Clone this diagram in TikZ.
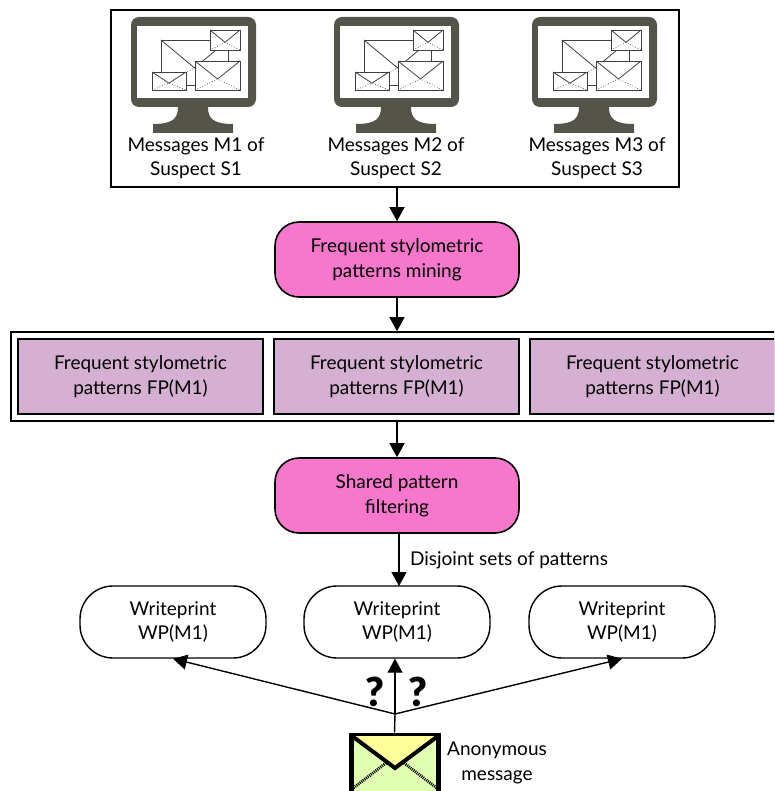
\documentclass[tikz,border=0pt]{standalone}
\usepackage{fontspec}
\setmainfont{Lato}
\newfontfamily\askfont{Lato Black}
\usetikzlibrary{arrows.meta}

\definecolor{screen}{HTML}{54544A}
\definecolor{mine}{HTML}{F777CC}
\definecolor{mauve}{HTML}{D6B0D2}
\definecolor{paper}{HTML}{E0FFB0}
\definecolor{flap}{HTML}{FFFF99}

\tikzset{
  every node/.style={font=\fontsize{19}{24.5}\selectfont,align=center},
  outer/.style={draw,line width=1.6pt},
  mining/.style={draw,line width=1.6pt,fill=mine,rounded corners=24pt,minimum width=244pt,minimum height=75pt},
  fpbox/.style={draw,line width=1.8pt,fill=mauve,minimum width=245pt,minimum height=75pt},
  wpbox/.style={draw,line width=1.4pt,rounded corners=33pt,minimum width=186pt,minimum height=72pt},
  ask/.style={font=\fontsize{40}{40}\askfont}
}

% one small letter: left, top, right, bottom
\newcommand{\mailicon}[4]{
  \pgfmathsetmacro{\mx}{(#1+#3)/2}
  \pgfmathsetmacro{\my}{#2+0.62*(#4-#2)}
  \draw[-,line width=.8pt,draw=black!75,fill=white] (#1,#2) rectangle (#3,#4);
  \draw[-,line width=.7pt,draw=black!75,dotted] (#1,#4) -- (\mx,\my) -- (#3,#4);
  \draw[-,line width=.8pt,draw=black!75] (#1,#2) -- (\mx,\my) -- (#3,#2);
}
% one monitor, x is the middle of the screen
\newcommand{\monitoricon}[1]{
  \begin{scope}[xshift=#1pt,-]
    \fill[screen,rounded corners=8pt] (-62.5,17) rectangle (62.5,107);
    \fill[white] (-56.5,26) rectangle (54.5,98);
    \fill[screen] (-15.5,107) .. controls (-15.5,118) and (-20,124) .. (-40.5,124)
      -- (-40.5,133) -- (39.5,133) -- (39.5,124)
      .. controls (19,124) and (14.5,118) .. (14.5,107) -- cycle;
    \mailicon{-32.5}{40}{34.5}{85}
    \mailicon{16.5}{30}{46.5}{50}
    \mailicon{1.5}{61}{46.5}{90}
    \mailicon{-41.5}{72}{-7.5}{90}
  \end{scope}
}

\begin{document}
\begin{tikzpicture}[->,>={Triangle[length=14pt,width=15pt]},auto,x=1pt,y=-1pt,line width=1.4pt]

  \clip (0,0) rectangle (774,791);
  \useasboundingbox (0,0) rectangle (774,791);

  \node[outer,minimum width=568pt,minimum height=177pt] (S) at (395,98.5) {};
  \monitoricon{193.5}
  \monitoricon{396.5}
  \monitoricon{594.5}
  \node (M1) at (196,158) {Messages M1 of\\Suspect S1};
  \node (M2) at (396,158) {Messages M2 of\\Suspect S2};
  \node (M3) at (597,158) {Messages M3 of\\Suspect S3};

  \node[mining] (mine) at (397,259.5) {Frequent stylometric\\patterns mining};

  \node[outer,minimum width=800pt,minimum height=89pt] (F) at (411,376.5) {};
  \node[fpbox] (F1) at (140.5,376.5) {Frequent stylometric\\patterns FP(M1)};
  \node[fpbox] (F2) at (396.5,376.5) {Frequent stylometric\\patterns FP(M1)};
  \node[fpbox] (F3) at (652.5,376.5) {Frequent stylometric\\patterns FP(M1)};

  \node[mining] (share) at (397,495.5) {Shared pattern\\filtering};

  \node[wpbox] (W1) at (173,622) {Writeprint\\WP(M1)};
  \node[wpbox] (W2) at (397,622) {Writeprint\\WP(M1)};
  \node[wpbox] (W3) at (622,622) {Writeprint\\WP(M1)};

  \coordinate (fork) at (395,714);

  % the envelope runs off the bottom
  \node[draw,line width=5pt,fill=paper,minimum width=87pt,minimum height=70pt] (anon) at (394.5,770) {};
  \filldraw[-,line width=4pt,fill=flap,line join=miter] (352,736) -- (395,768) -- (438,736);
  \draw[-,line width=3pt,dash pattern=on 1pt off 1pt] (386,763) -- (352,789);
  \draw[-,line width=3pt,dash pattern=on 1pt off 1pt] (404,763) -- (438,789);
  \node (anonlabel) at (497,763) {Anonymous\\message};

  \node[ask] (q1) at (375,692) {?};
  \node[ask] (q2) at (418,692) {?};

  \path (mine |- S.south) edge (mine)
        (mine) edge (mine |- F.north)
        (share |- F.south) edge (share)
        (399,533) edge node[right,pos=.52,xshift=7pt] (disjoint) {Disjoint sets of patterns} (399,586)
        (fork) edge (W1.south)
               edge (fork |- W2.south)
               edge (W3.south);
  \draw[-] (anon.north) -- (fork);
\end{tikzpicture}
\end{document}
